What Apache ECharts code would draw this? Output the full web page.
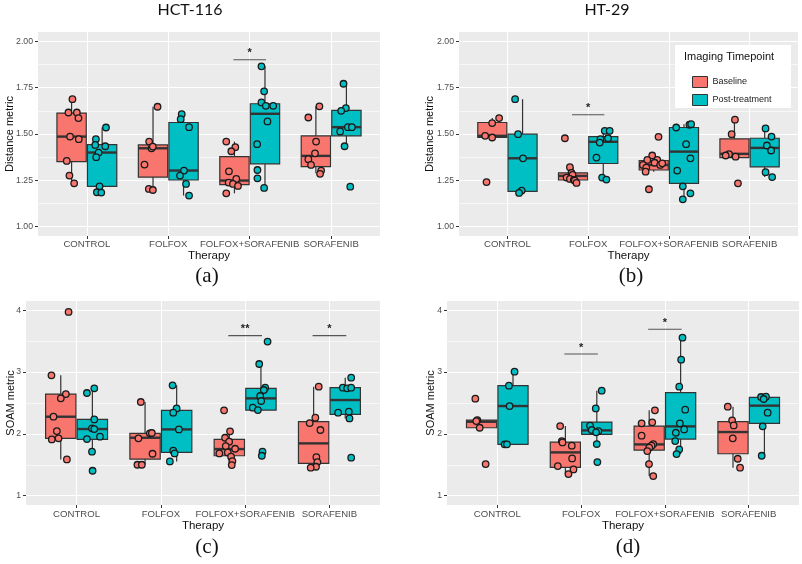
<!DOCTYPE html>
<html><head><meta charset="utf-8">
<script src="https://cdn.jsdelivr.net/npm/echarts@6/dist/echarts.min.js"></script>
<style>html,body{margin:0;padding:0;background:#fff}#c{width:802px;height:564px}</style>
</head><body><div id="c"></div>
<script>
const categories = ['CONTROL','FOLFOX','FOLFOX+SORAFENIB','SORAFENIB'];
const groups = ['Baseline','Post-treatment'];
const distTicks = [1.00,1.25,1.50,1.75,2.00];
const distMinor = [1.125,1.375,1.625,1.875];
const soamTicks = [1,2,3,4];
const soamMinor = [1.5,2.5,3.5];

// box stats per category: [lower whisker, Q1, median, Q3, upper whisker]
const hctDistBaseBox = [[1.234,1.351,1.486,1.613,1.688],[1.198,1.268,1.423,1.441,1.647],[1.180,1.227,1.249,1.378,1.459],[1.288,1.324,1.382,1.490,1.649]];
const hctDistPostBox = [[1.184,1.218,1.400,1.443,1.535],[1.168,1.252,1.303,1.562,1.607],[1.209,1.339,1.609,1.663,1.865],[1.434,1.490,1.537,1.627,1.771]];
const htDistBaseBox  = [[1.481,1.481,1.490,1.562,1.586],[1.236,1.252,1.274,1.290,1.321],[1.297,1.306,1.333,1.357,1.384],[1.373,1.373,1.393,1.474,1.577]];
const htDistPostBox  = [[1.182,1.191,1.369,1.499,1.688],[1.254,1.341,1.458,1.486,1.517],[1.148,1.234,1.405,1.535,1.553],[1.268,1.323,1.425,1.477,1.530]];
const hctSoamBaseBox = [[1.588,1.928,2.278,2.645,2.948],[1.501,1.593,1.938,2.009,2.516],[1.496,1.647,1.755,1.911,2.041],[1.453,1.523,1.847,2.198,2.764]];
const hctSoamPostBox = [[1.712,1.911,2.079,2.235,2.737],[1.555,1.701,2.073,2.381,2.786],[2.386,2.386,2.575,2.737,3.131],[2.251,2.316,2.548,2.748,2.910]];
const htSoamBaseBox  = [[2.100,2.100,2.197,2.224,2.224],[1.350,1.458,1.701,1.868,2.127],[1.318,1.739,1.830,2.127,2.381],[1.453,1.679,2.030,2.198,2.440]];
const htSoamPostBox  = [[1.831,1.831,2.451,2.780,3.007],[1.836,1.992,2.057,2.192,2.699],[1.674,1.917,2.122,2.667,3.557],[1.647,2.170,2.457,2.591,2.602]];

// jittered points per category: [offset from category centre (axis units), value]
const hctDistBasePts = [
 [[-0.177,1.688],[-0.226,1.616],[-0.123,1.616],[-0.103,1.586],[-0.206,1.486],[-0.099,1.472],[-0.247,1.355],[-0.214,1.276],[-0.156,1.234]],
 [[-0.132,1.647],[-0.235,1.459],[-0.206,1.423],[-0.190,1.432],[-0.292,1.335],[-0.239,1.204],[-0.189,1.198]],
 [[-0.288,1.459],[-0.177,1.429],[-0.226,1.407],[-0.255,1.299],[-0.165,1.258],[-0.259,1.238],[-0.206,1.231],[-0.144,1.220],[-0.288,1.180]],
 [[-0.144,1.649],[-0.280,1.589],[-0.185,1.459],[-0.198,1.396],[-0.280,1.364],[-0.247,1.333],[-0.123,1.303],[-0.136,1.285]]];
const hctDistPostPts = [
 [[0.235,1.535],[0.111,1.472],[0.103,1.441],[0.226,1.434],[0.144,1.400],[0.115,1.375],[0.156,1.218],[0.123,1.186],[0.177,1.184]],
 [[0.165,1.607],[0.152,1.580],[0.255,1.537],[0.193,1.303],[0.144,1.276],[0.218,1.231],[0.255,1.168]],
 [[0.144,1.865],[0.177,1.730],[0.144,1.670],[0.198,1.652],[0.288,1.652],[0.218,1.568],[0.091,1.445],[0.095,1.306],[0.095,1.261],[0.177,1.209]],
 [[0.152,1.771],[0.181,1.640],[0.123,1.625],[0.111,1.514],[0.206,1.537],[0.255,1.537],[0.165,1.434],[0.235,1.216]]];
const htDistBasePts = [
 [[-0.103,1.586],[-0.189,1.559],[-0.276,1.490],[-0.189,1.481],[-0.259,1.241]],
 [[-0.288,1.477],[-0.226,1.321],[-0.206,1.290],[-0.193,1.280],[-0.267,1.265],[-0.226,1.258],[-0.177,1.252],[-0.165,1.249],[-0.144,1.236]],
 [[-0.128,1.485],[-0.206,1.384],[-0.267,1.360],[-0.144,1.360],[-0.177,1.345],[-0.321,1.333],[-0.107,1.333],[-0.280,1.319],[-0.288,1.297],[-0.082,1.342],[-0.247,1.202]],
 [[-0.181,1.577],[-0.222,1.499],[-0.255,1.391],[-0.296,1.384],[-0.173,1.378],[-0.144,1.234]]];
const htDistPostPts = [
 [[0.095,1.688],[0.132,1.499],[0.193,1.369],[0.177,1.195],[0.144,1.182]],
 [[0.206,1.517],[0.267,1.517],[0.152,1.472],[0.247,1.477],[0.144,1.454],[0.103,1.373],[0.173,1.265],[0.226,1.254]],
 [[0.091,1.535],[0.255,1.550],[0.276,1.553],[0.214,1.445],[0.267,1.369],[0.103,1.303],[0.173,1.218],[0.267,1.180],[0.173,1.148]],
 [[0.198,1.530],[0.272,1.486],[0.214,1.438],[0.267,1.411],[0.198,1.294],[0.280,1.268]]];
const hctSoamBasePts = [
 [[-0.095,3.973],[-0.298,2.948],[-0.127,2.645],[-0.187,2.575],[-0.274,2.278],[-0.234,2.046],[-0.294,1.911],[-0.214,1.928],[-0.115,1.588]],
 [[-0.238,2.516],[-0.131,2.009],[-0.107,2.015],[-0.266,1.928],[-0.099,1.679],[-0.278,1.501],[-0.226,1.501]],
 [[-0.250,2.381],[-0.179,2.041],[-0.238,1.938],[-0.190,1.874],[-0.230,1.804],[-0.119,1.760],[-0.206,1.701],[-0.306,1.685],[-0.167,1.631],[-0.151,1.561],[-0.159,1.496]],
 [[-0.127,2.764],[-0.167,2.262],[-0.234,2.176],[-0.107,2.063],[-0.155,1.626],[-0.143,1.544],[-0.159,1.469],[-0.222,1.453]]];
const hctSoamPostPts = [
 [[0.210,2.737],[0.123,2.662],[0.210,2.235],[0.183,2.090],[0.210,2.079],[0.278,1.955],[0.123,1.917],[0.183,1.712],[0.190,1.404]],
 [[0.139,2.786],[0.187,2.413],[0.147,2.343],[0.214,2.073],[0.147,1.728],[0.163,1.685],[0.107,1.555]],
 [[0.266,3.493],[0.167,3.131],[0.238,2.748],[0.222,2.710],[0.179,2.613],[0.190,2.532],[0.091,2.424],[0.151,2.386],[0.206,1.712],[0.198,1.647]],
 [[0.258,2.910],[0.159,2.748],[0.210,2.737],[0.258,2.748],[0.103,2.343],[0.230,2.359],[0.238,2.251],[0.258,1.615]]];
const htSoamBasePts = [
 [[-0.262,2.570],[-0.238,2.224],[-0.250,2.208],[-0.210,2.100],[-0.139,1.512]],
 [[-0.250,2.127],[-0.230,1.884],[-0.222,1.863],[-0.111,1.809],[-0.107,1.604],[-0.278,1.480],[-0.091,1.426],[-0.151,1.350]],
 [[-0.119,2.381],[-0.278,2.171],[-0.151,2.187],[-0.278,1.971],[-0.139,1.836],[-0.159,1.809],[-0.187,1.777],[-0.210,1.723],[-0.190,1.512],[-0.139,1.318]],
 [[-0.250,2.440],[-0.198,2.219],[-0.179,2.138],[-0.190,1.928],[-0.131,1.598],[-0.103,1.453]]];
const htSoamPostPts = [
 [[0.206,3.007],[0.139,2.780],[0.147,2.451],[0.087,1.831],[0.115,1.831]],
 [[0.246,2.699],[0.175,2.413],[0.107,2.133],[0.127,2.063],[0.206,2.046],[0.179,2.025],[0.187,1.836],[0.194,1.544]],
 [[0.210,3.557],[0.194,3.201],[0.171,2.764],[0.242,2.392],[0.179,2.171],[0.230,2.073],[0.131,2.019],[0.123,1.884],[0.171,1.750],[0.139,1.674]],
 [[0.147,2.597],[0.206,2.602],[0.179,2.565],[0.226,2.343],[0.167,2.122],[0.155,1.647]]];

// significance brackets: [category index, height, label]
const hctDistSig = [[2,1.90,'*']];
const htDistSig  = [[1,1.604,'*']];
const hctSoamSig = [[2,3.59,'**'],[3,3.59,'*']];
const htSoamSig  = [[1,3.293,'*'],[2,3.692,'*']];

const DODGE = 0.1875, HALF_BOX = 0.18, SIG_HALF = 0.2;
const COLORS = ['#F8766D','#00BFC4'];
const LINE = '#333333';
const SANS = "'Liberation Sans', Arial, sans-serif";

const panels = [
 {grid:{left:38,top:32,width:342,height:204}, ymin:0.95,ymax:2.05,ticks:distTicks,minor:distMinor,dig:2,yName:'Distance metric',yGap:23,xGap:14,xMargin:3,
  box:[hctDistBaseBox,hctDistPostBox], pts:[hctDistBasePts,hctDistPostPts], sig:hctDistSig},
 {grid:{left:459,top:32,width:339,height:204}, ymin:0.95,ymax:2.05,ticks:distTicks,minor:distMinor,dig:2,yName:'Distance metric',yGap:24,xGap:14,xMargin:3,
  box:[htDistBaseBox,htDistPostBox], pts:[htDistBasePts,htDistPostPts], sig:htDistSig},
 {grid:{left:26,top:301,width:354,height:204}, ymin:0.85,ymax:4.15,ticks:soamTicks,minor:soamMinor,dig:0,yName:'SOAM metric',yGap:10,xGap:15,xMargin:4,
  box:[hctSoamBaseBox,hctSoamPostBox], pts:[hctSoamBasePts,hctSoamPostPts], sig:hctSoamSig},
 {grid:{left:447,top:301,width:352,height:204}, ymin:0.85,ymax:4.15,ticks:soamTicks,minor:soamMinor,dig:0,yName:'SOAM metric',yGap:11,xGap:15,xMargin:4,
  box:[htSoamBaseBox,htSoamPostBox], pts:[htSoamBasePts,htSoamPostPts], sig:htSoamSig}
];

function renderBox(params, api){
  const x = api.value(0);
  const lo = api.coord([x, api.value(1)]);
  const q1 = api.coord([x, api.value(2)]);
  const md = api.coord([x, api.value(3)]);
  const q3 = api.coord([x, api.value(4)]);
  const hi = api.coord([x, api.value(5)]);
  const l = api.coord([x - HALF_BOX, api.value(3)])[0];
  const r = api.coord([x + HALF_BOX, api.value(3)])[0];
  const color = api.visual('color');
  return {type:'group', children:[
    {type:'line', shape:{x1:lo[0],y1:lo[1],x2:q1[0],y2:q1[1]}, style:{stroke:LINE,lineWidth:1.2}},
    {type:'line', shape:{x1:q3[0],y1:q3[1],x2:hi[0],y2:hi[1]}, style:{stroke:LINE,lineWidth:1.2}},
    {type:'rect', shape:{x:l,y:q3[1],width:r-l,height:q1[1]-q3[1]}, style:{fill:color,stroke:LINE,lineWidth:1.2}},
    {type:'line', shape:{x1:l,y1:md[1],x2:r,y2:md[1]}, style:{stroke:LINE,lineWidth:2.4}}
  ]};
}
function renderSig(params, api){
  const c = api.value(0), h = api.value(1);
  const a = api.coord([c - SIG_HALF, h]);
  const b = api.coord([c + SIG_HALF, h]);
  const m = api.coord([c, h]);
  return {type:'group', children:[
    {type:'line', shape:{x1:a[0],y1:a[1],x2:b[0],y2:b[1]}, style:{stroke:'#555',lineWidth:1.1}},
    {type:'text', x:m[0], y:m[1]-1, style:{text:String(api.value(2)), fill:'#222', font:'bold 11px '+SANS, textAlign:'center', textVerticalAlign:'bottom'}}
  ]};
}

const grid=[], xAxis=[], yAxis=[], series=[];
panels.forEach((p,gi)=>{
  grid.push(Object.assign({show:true, backgroundColor:'#EBEBEB', borderWidth:0}, p.grid));
  xAxis.push({type:'value', gridIndex:gi, min:-0.6, max:3.6, position:'bottom', name:'Therapy', nameLocation:'middle', nameGap:p.xGap,
    nameTextStyle:{fontFamily:SANS,fontSize:11.5,color:'#111'},
    axisLine:{show:false,onZero:false},
    axisTick:{show:true,length:3,customValues:[0,1,2,3],lineStyle:{color:LINE,width:1}},
    axisLabel:{customValues:[0,1,2,3], margin:p.xMargin, formatter:v=>categories[Math.round(v)], fontFamily:SANS, fontSize:9.6, color:'#4D4D4D', hideOverlap:false},
    splitLine:{show:true,lineStyle:{color:'#fff',width:1.1}}});
  yAxis.push({type:'value', gridIndex:gi, min:p.ymin, max:p.ymax, position:'left', name:p.yName, nameLocation:'middle', nameGap:p.yGap, nameMoveOverlap:false,
    nameTextStyle:{fontFamily:SANS,fontSize:11,color:'#111'},
    axisLine:{show:false,onZero:false},
    axisTick:{show:true,length:3,customValues:p.ticks,lineStyle:{color:LINE,width:1}},
    axisLabel:{customValues:p.ticks, margin:5, formatter:v=>v.toFixed(p.dig), fontFamily:SANS, fontSize:8.7, color:'#4D4D4D'},
    splitLine:{show:true,lineStyle:{color:'#fff',width:1.1}}});
});
panels.forEach((p,gi)=>{
  yAxis.push({type:'value', gridIndex:gi, min:p.ymin, max:p.ymax, position:'left', axisLine:{show:false,onZero:false},
    axisTick:{show:false,customValues:p.minor}, axisLabel:{show:false},
    splitLine:{show:true,lineStyle:{color:'#fff',width:0.6}}});
});
panels.forEach((p,gi)=>{
  groups.forEach((g,k)=>{
    const off = k===0 ? -DODGE : DODGE;
    series.push({type:'custom', name:g, xAxisIndex:gi, yAxisIndex:gi, renderItem:renderBox,
      itemStyle:{color:COLORS[k]}, encode:{x:0,y:[1,2,3,4,5]}, z:2,
      data:p.box[k].map((b,i)=>[i+off].concat(b))});
  });
  groups.forEach((g,k)=>{
    const data=[];
    p.pts[k].forEach((arr,i)=>arr.forEach(([dx,v])=>data.push([i+dx,v])));
    series.push({type:'scatter', name:g, xAxisIndex:gi, yAxisIndex:gi, symbol:'circle', symbolSize:6.5, z:3,
      itemStyle:{color:COLORS[k], borderColor:'#1a1a1a', borderWidth:1.3, opacity:1}, data});
  });
  series.push({type:'custom', name:'sig'+gi, xAxisIndex:gi, yAxisIndex:gi, renderItem:renderSig, z:4,
    encode:{x:0,y:1}, data:p.sig.map(s=>[s[0],s[1],s[2]]),
    dimensions:[{name:'c',type:'number'},{name:'h',type:'number'},{name:'t',type:'ordinal'}]});
});

const txt=(x,y,t,font,size)=>({type:'text',x,y,z:30,style:{text:t,font:size+'px '+font,fill:'#111',textAlign:'center',textVerticalAlign:'middle'}});

const option = {
  animation:false,
  grid, xAxis, yAxis, series,
  legend:{show:true, orient:'vertical', left:687, top:71, itemWidth:15, itemHeight:11, itemGap:6, z:40, selectedMode:false,
    textStyle:{fontFamily:SANS,fontSize:9,color:'#222'},
    data:[{name:'Baseline',icon:'rect',itemStyle:{color:COLORS[0],borderColor:LINE,borderWidth:1}},
          {name:'Post-treatment',icon:'rect',itemStyle:{color:COLORS[1],borderColor:LINE,borderWidth:1}}]},
  graphic:[
    {type:'rect', z:20, shape:{x:675,y:45,width:116,height:63}, style:{fill:'#fff'}},
    {type:'text', x:684, y:57, z:30, style:{text:'Imaging Timepoint', font:'11px '+SANS, fill:'#111', textAlign:'left', textVerticalAlign:'middle'}},
    txt(190,10,'HCT-116','Lato',16),
    txt(607,10,'HT-29','Lato',16),
    txt(207,276,'(a)','Liberation Serif',21),
    txt(631,276,'(b)','Liberation Serif',21),
    txt(207,547,'(c)','Liberation Serif',21),
    txt(628,547,'(d)','Liberation Serif',21)
  ]
};
const chart = echarts.init(document.getElementById('c'));
chart.setOption(option);
</script></body></html>
